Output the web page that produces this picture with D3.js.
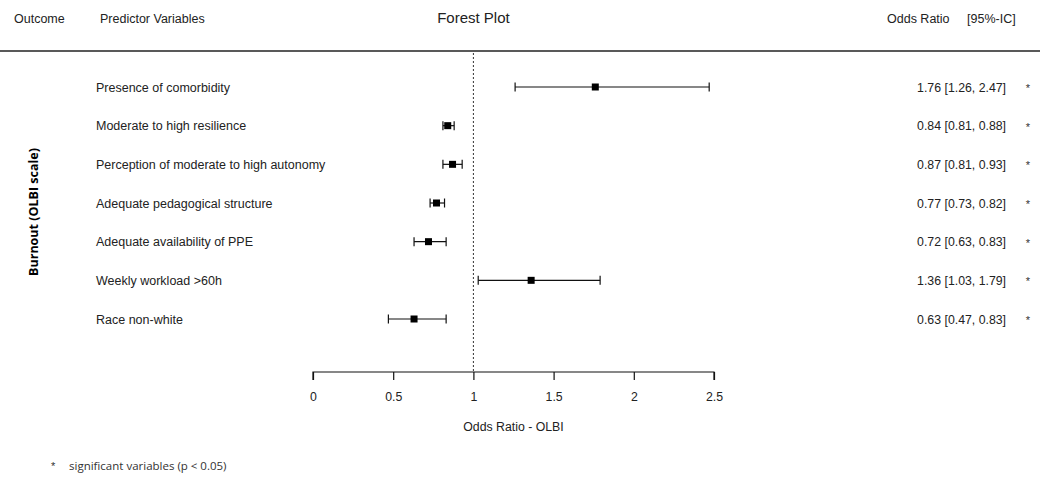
<!DOCTYPE html>
<html>
<head>
<meta charset="utf-8">
<script src="https://cdn.jsdelivr.net/npm/d3@7"></script>
<style>
  body { margin: 0; background: #fff; }
  svg { display: block; font-family: "Liberation Sans", Arial, sans-serif; }
</style>
</head>
<body>
<div id="forest"></div>
<script>
// data
const predictors = [
  "Presence of comorbidity",
  "Moderate to high resilience",
  "Perception of moderate to high autonomy",
  "Adequate pedagogical structure",
  "Adequate availability of PPE",
  "Weekly workload >60h",
  "Race non-white"
];
const oddsRatio = [1.76, 0.84, 0.87, 0.77, 0.72, 1.36, 0.63];
const ciLow = [1.26, 0.81, 0.81, 0.73, 0.63, 1.03, 0.47];
const ciHigh = [2.47, 0.88, 0.93, 0.82, 0.83, 1.79, 0.83];
const xTicks = [0, 0.5, 1, 1.5, 2, 2.5];
const outcome = "Burnout (OLBI scale)";

const width = 1040, height = 477;

let svg = d3.select("#forest").append("svg")
    .attr("width", width)
    .attr("height", height);

let x = d3.scaleLinear()
    .domain([0, 2.5])
    .range([313, 714]);

let y = d3.scalePoint()
    .domain(predictors)
    .range([87, 319]);

const fmt = d3.format(".2f");

// header
svg.append("text").attr("x", 14).attr("y", 23).attr("font-size", 12.5).attr("fill", "#222").text("Outcome");
svg.append("text").attr("x", 100).attr("y", 23).attr("font-size", 12.5).attr("fill", "#222").text("Predictor Variables");
svg.append("text").attr("x", x(1)).attr("y", 23).attr("font-size", 15)
    .attr("text-anchor", "middle").attr("fill", "#222").text("Forest Plot");
svg.append("text").attr("x", 887).attr("y", 23).attr("font-size", 12.5).attr("fill", "#222").text("Odds Ratio");
svg.append("text").attr("x", 967).attr("y", 23).attr("font-size", 12.5).attr("fill", "#222").text("[95%-IC]");

svg.append("line")
    .attr("x1", 0).attr("x2", width)
    .attr("y1", 51).attr("y2", 51)
    .attr("stroke", "#222").attr("stroke-width", 1.6);

// reference line at OR = 1
svg.append("line")
    .attr("x1", x(1)).attr("x2", x(1))
    .attr("y1", 53).attr("y2", 372)
    .attr("stroke", "#333").attr("stroke-width", 1)
    .attr("stroke-dasharray", "2,2");

// outcome label
svg.append("text")
    .attr("transform", "translate(38,212) rotate(-90)")
    .attr("text-anchor", "middle")
    .attr("font-family", "'Open Sans', sans-serif")
    .attr("font-weight", "bold")
    .attr("font-size", 12.5)
    .text(outcome);

let rows = svg.selectAll(".row")
    .data(predictors)
    .enter()
    .append("g")
    .classed("row", true)
    .attr("transform", function (d) { return "translate(0," + y(d) + ")"; });

rows.append("text")
    .attr("x", 96).attr("y", 4.5)
    .attr("font-size", 12.5)
    .attr("fill", "#222")
    .text(function (d) { return d; });

// whiskers
rows.append("line")
    .attr("x1", function (d, i) { return x(ciLow[i]); })
    .attr("x2", function (d, i) { return x(ciHigh[i]); })
    .attr("stroke", "#111").attr("stroke-width", 1.2);

rows.append("line")
    .attr("x1", function (d, i) { return x(ciLow[i]); })
    .attr("x2", function (d, i) { return x(ciLow[i]); })
    .attr("y1", -4.5).attr("y2", 4.5)
    .attr("stroke", "#111").attr("stroke-width", 1.2);

rows.append("line")
    .attr("x1", function (d, i) { return x(ciHigh[i]); })
    .attr("x2", function (d, i) { return x(ciHigh[i]); })
    .attr("y1", -4.5).attr("y2", 4.5)
    .attr("stroke", "#111").attr("stroke-width", 1.2);

// point estimates
rows.append("rect")
    .attr("x", function (d, i) { return x(oddsRatio[i]) - 3.5; })
    .attr("y", -3.5)
    .attr("width", 7).attr("height", 7)
    .attr("fill", "#000");

// right column text
rows.append("text")
    .attr("x", 1006).attr("y", 4.5)
    .attr("text-anchor", "end")
    .attr("font-size", 12.3)
    .attr("fill", "#222")
    .text(function (d, i) {
        return fmt(oddsRatio[i]) + " [" + fmt(ciLow[i]) + ", " + fmt(ciHigh[i]) + "]";
    });

rows.append("text")
    .attr("x", 1028).attr("y", 5)
    .attr("text-anchor", "middle")
    .attr("font-size", 11)
    .attr("fill", "#333")
    .text("*");

// x axis
let xAxis = d3.axisBottom(x)
    .tickValues(xTicks)
    .tickFormat(d3.format("~g"))
    .tickSize(8)
    .tickPadding(12);

let axisG = svg.append("g")
    .attr("transform", "translate(0,372)")
    .call(xAxis);

axisG.select(".domain").attr("d", "M" + x(0) + ",8V0H" + x(2.5) + "V8")
    .attr("stroke", "#111").attr("stroke-width", 1.2);
axisG.selectAll(".tick line").attr("stroke", "#111").attr("stroke-width", 1.2);
axisG.selectAll(".tick text")
    .attr("font-size", 12.3)
    .attr("font-family", "'Liberation Sans', Arial, sans-serif")
    .attr("fill", "#222");

svg.append("text")
    .attr("x", x(1.25)).attr("y", 431)
    .attr("text-anchor", "middle")
    .attr("font-size", 12.3)
    .attr("fill", "#222")
    .text("Odds Ratio - OLBI");

// footnote
svg.append("text").attr("x", 51).attr("y", 470).attr("font-size", 11).attr("fill", "#333").text("*");
svg.append("text").attr("x", 69).attr("y", 470)
    .attr("font-family", "'Open Sans', sans-serif")
    .attr("font-size", 11.5).attr("fill", "#333")
    .text("significant variables (p < 0.05)");
</script>
</body>
</html>
